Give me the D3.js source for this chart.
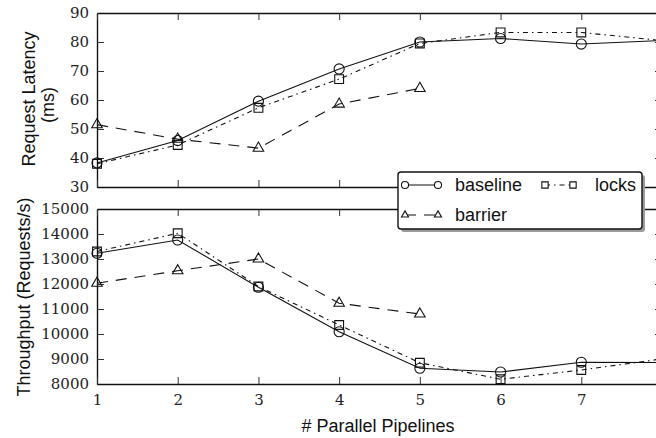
<!DOCTYPE html>
<html>
<head>
<meta charset="utf-8">
<script src="https://cdn.jsdelivr.net/npm/d3@7"></script>
<style>
  body { margin: 0; background: #fff; }
  svg { display: block; }
  .tick text { font-family: "DejaVu Serif", serif; font-size: 15px; fill: #222; }
  .title { font-family: "Liberation Sans", Arial, sans-serif; font-size: 18px; fill: #111; }
</style>
</head>
<body>
<div id="chart"></div>
<script>
// x values
const pipelines = [1, 2, 3, 4, 5, 6, 7, 8];

// Request Latency (ms)
const latencyBaseline = [38.3, 46, 59.6, 70.7, 80, 81.2, 79.3, 80.5];
const latencyLocks = [38, 44.5, 57.3, 67.2, 79.5, 83.3, 83.3, 80.5];
const latencyBarrier = [51.5, 46.5, 43.4, 58.6, 64];

// Throughput (Requests/s)
const throughputBaseline = [13230, 13760, 11870, 10090, 8630, 8480, 8870, 8860];
const throughputLocks = [13300, 14030, 11900, 10360, 8850, 8190, 8560, 9000];
const throughputBarrier = [12030, 12530, 13000, 11230, 10800];

const latencyTicks = [30, 40, 50, 60, 70, 80, 90];
const throughputTicks = [8000, 9000, 10000, 11000, 12000, 13000, 14000, 15000];

const width = 656;
const height = 438;
const left = 97, right = 662;

const svg = d3.select("#chart")
    .append("svg")
    .attr("width", width)
    .attr("height", height);

const x = d3.scaleLinear().domain([1, 8]).range([left, right]);
const yTop = d3.scaleLinear().domain([30, 90]).range([187, 13]);
const yBot = d3.scaleLinear().domain([8000, 15000]).range([384, 209]);

const series = [
    { name: "baseline", symbol: d3.symbolCircle, size: 80, dash: null },
    { name: "locks", symbol: d3.symbolSquare, size: 78, dash: "5,4,1.5,4" },
    { name: "barrier", symbol: d3.symbolTriangle, size: 48, dash: "11,8" }
];

function drawPanel(y, ticks, data, showX) {
    const top = y.range()[1], bottom = y.range()[0];
    const g = svg.append("g");

    g.append("g")
        .attr("transform", `translate(${left},0)`)
        .call(d3.axisLeft(y).tickValues(ticks).tickSize(-7).tickSizeOuter(0).tickPadding(8)
            .tickFormat(d3.format("d")));
    g.append("g")
        .attr("transform", `translate(${right},0)`)
        .call(d3.axisRight(y).tickValues(ticks).tickSize(-7).tickSizeOuter(0).tickFormat(""));
    g.append("g")
        .attr("transform", `translate(0,${top})`)
        .call(d3.axisTop(x).tickValues(pipelines).tickSize(-7).tickSizeOuter(0).tickFormat(""));
    g.append("g")
        .attr("transform", `translate(0,${bottom})`)
        .call(d3.axisBottom(x).tickValues(pipelines).tickSize(-7).tickSizeOuter(0).tickPadding(10)
            .tickFormat(d => (showX && x(d) < width) ? d3.format("d")(d) : ""));

    g.selectAll(".domain").attr("stroke", "#111").attr("stroke-width", 1.4);
    g.selectAll(".tick line").attr("stroke", "#333").attr("stroke-width", 1);

    data.forEach((vals, i) => {
        const s = series[i];
        const pts = vals.map((v, j) => [pipelines[j], v]);
        const line = d3.line().x(d => x(d[0])).y(d => y(d[1]));
        g.append("path")
            .attr("d", line(pts))
            .attr("fill", "none")
            .attr("stroke", "#111")
            .attr("stroke-width", 1.1)
            .attr("stroke-dasharray", s.dash);
        g.selectAll(null)
            .data(pts)
            .enter()
            .append("path")
            .attr("d", d3.symbol().type(s.symbol).size(s.size))
            .attr("transform", d => `translate(${x(d[0])},${y(d[1])})`)
            .attr("fill", "none")
            .attr("stroke", "#111")
            .attr("stroke-width", 1.1);
    });
}

drawPanel(yTop, latencyTicks, [latencyBaseline, latencyLocks, latencyBarrier], false);
drawPanel(yBot, throughputTicks, [throughputBaseline, throughputLocks, throughputBarrier], true);

// axis titles
svg.append("text").attr("class", "title")
    .attr("transform", "translate(35,99) rotate(-90)")
    .attr("text-anchor", "middle")
    .text("Request Latency");
svg.append("text").attr("class", "title")
    .attr("transform", "translate(54,105) rotate(-90)")
    .attr("text-anchor", "middle")
    .text("(ms)");
svg.append("text").attr("class", "title")
    .attr("transform", "translate(30,297) rotate(-90)")
    .attr("text-anchor", "middle")
    .text("Throughput (Requests/s)");
svg.append("text").attr("class", "title")
    .attr("x", 378)
    .attr("y", 432)
    .attr("text-anchor", "middle")
    .text("# Parallel Pipelines");

// legend
const legend = svg.append("g");
legend.append("rect")
    .attr("x", 401).attr("y", 175).attr("width", 244).attr("height", 57)
    .attr("rx", 3).attr("fill", "#9a9a9a");
legend.append("rect")
    .attr("x", 398).attr("y", 172).attr("width", 244).attr("height", 57)
    .attr("rx", 3).attr("fill", "#fff").attr("stroke", "#111").attr("stroke-width", 1.4);

const legendItems = [
    { s: series[0], x0: 405, y0: 185, size: 40, gap: 17 },
    { s: series[1], x0: 545, y0: 185, size: 40, gap: 22 },
    { s: series[2], x0: 405, y0: 215, size: 22, gap: 17 }
];
legendItems.forEach(it => {
    const x1 = it.x0 + (it.s.name === "locks" ? 28 : 33);
    legend.append("line")
        .attr("x1", it.x0).attr("x2", x1)
        .attr("y1", it.y0).attr("y2", it.y0)
        .attr("stroke", "#111").attr("stroke-width", 1.1)
        .attr("stroke-dasharray", it.s.dash);
    [it.x0, x1].forEach(px => {
        legend.append("path")
            .attr("d", d3.symbol().type(it.s.symbol).size(it.size))
            .attr("transform", `translate(${px},${it.y0})`)
            .attr("fill", "#fff")
            .attr("stroke", "#111")
            .attr("stroke-width", 1.1);
    });
    legend.append("text").attr("class", "title")
        .attr("x", x1 + it.gap)
        .attr("y", it.y0 + 6)
        .text(it.s.name);
});
</script>
</body>
</html>
